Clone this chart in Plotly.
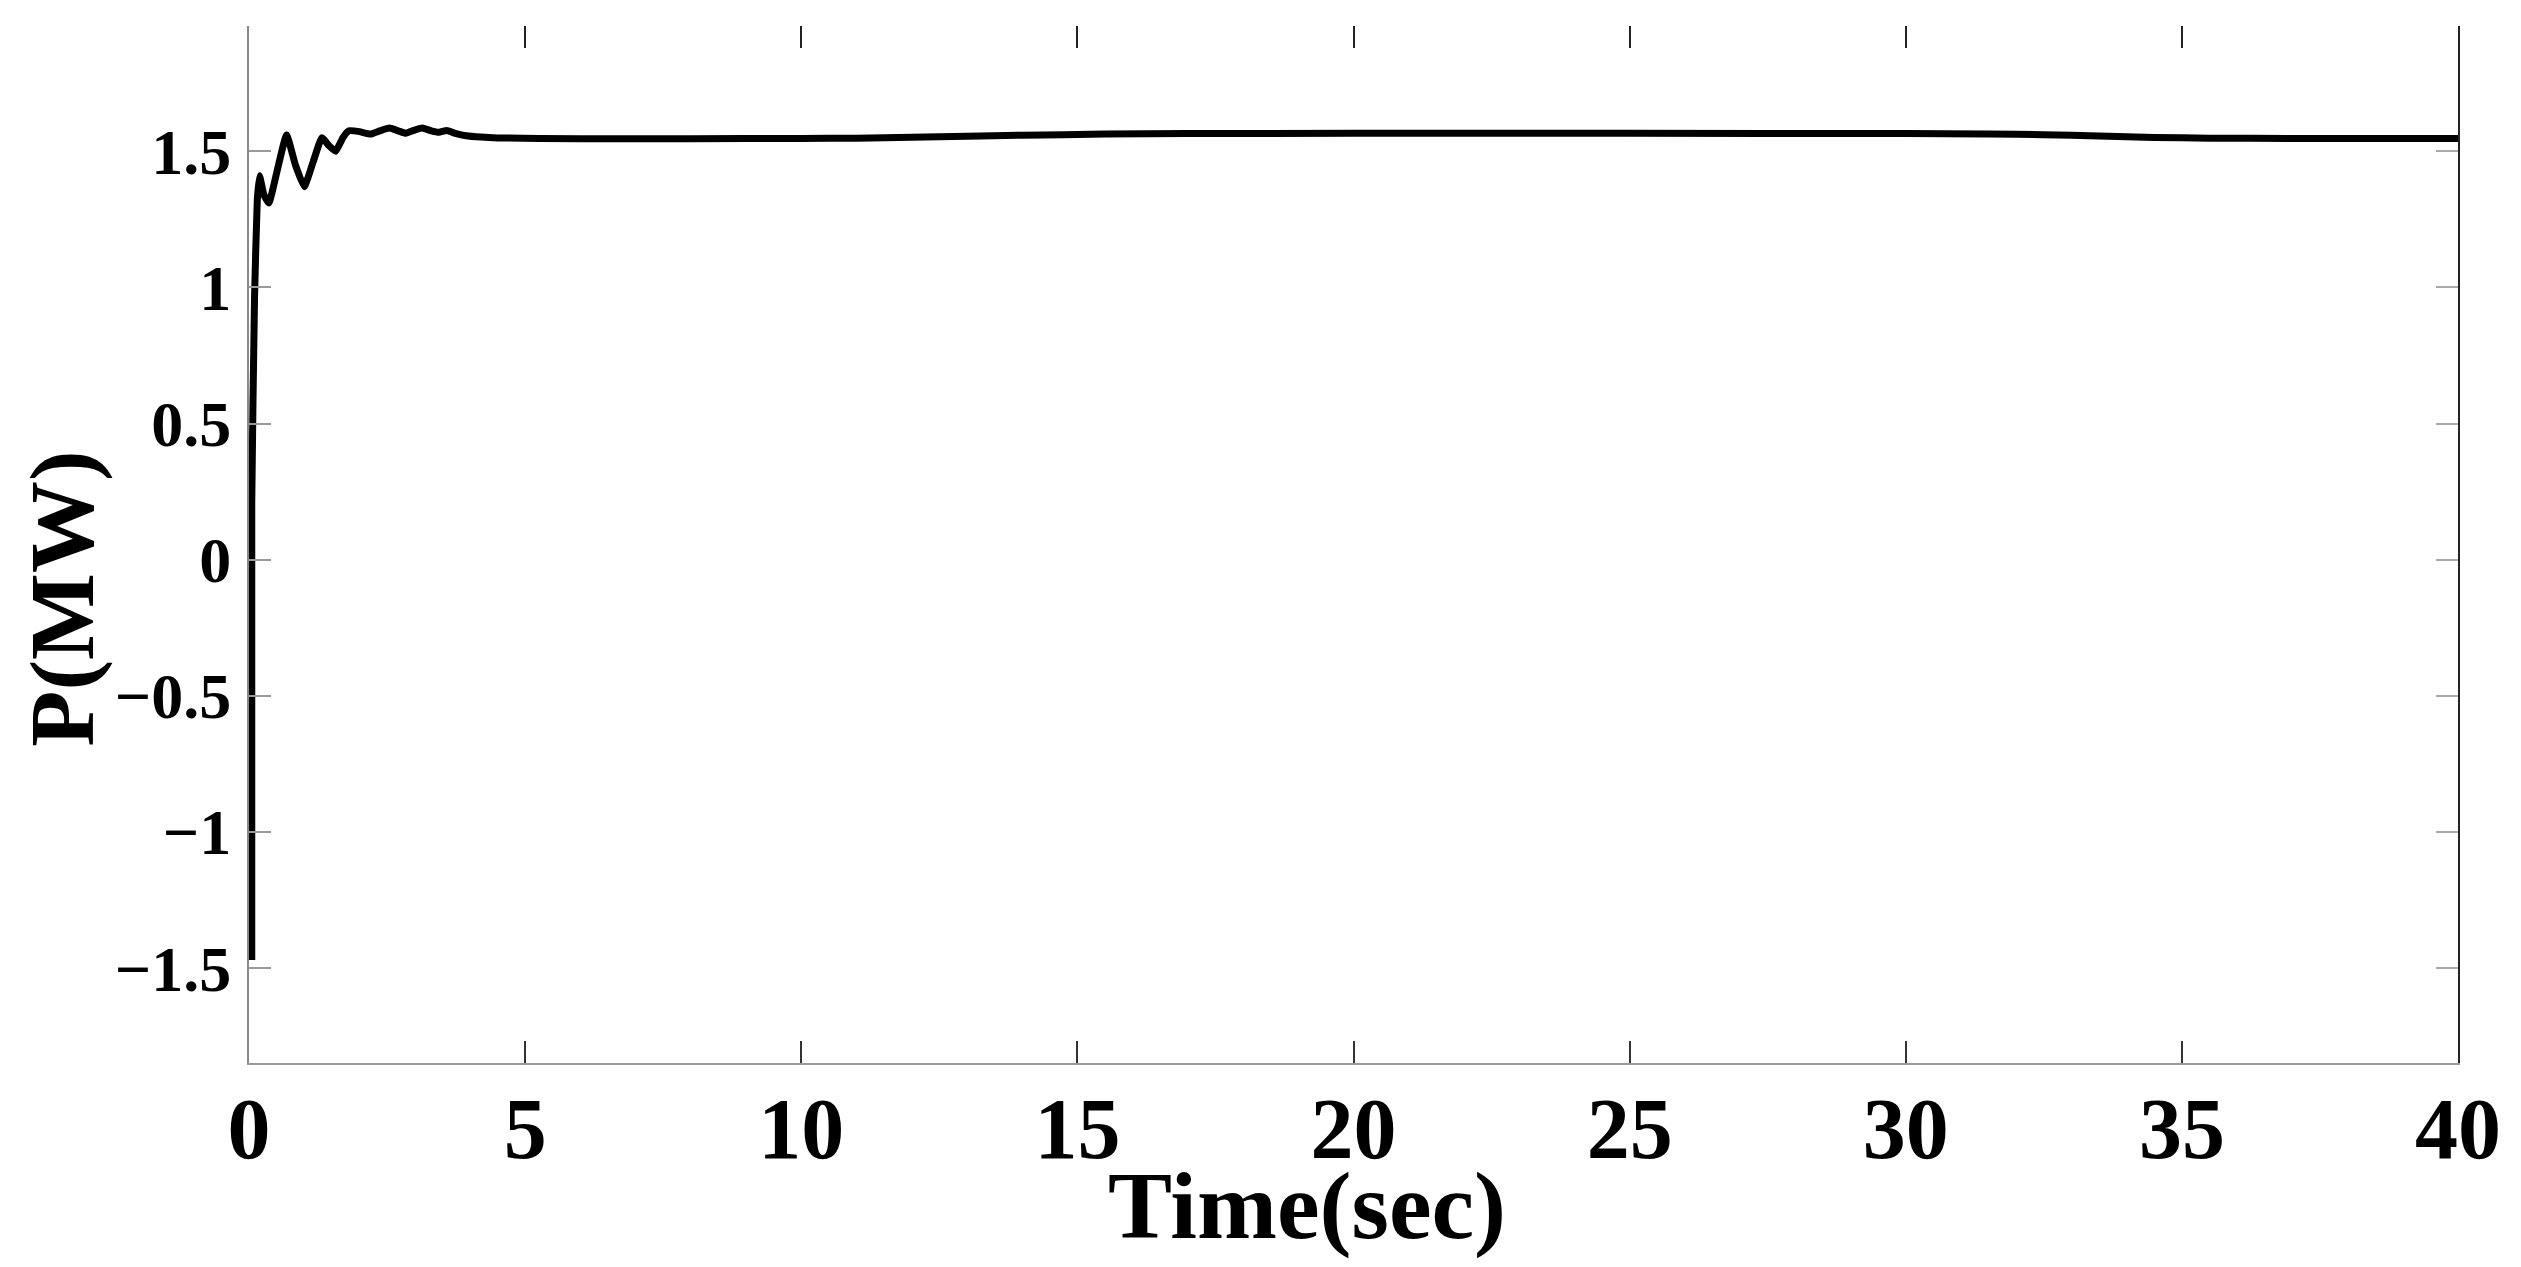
import plotly.graph_objects as go

# P(MW)
time_s = [0.05, 0.05, 0.10, 0.15, 0.19, 0.27, 0.36, 0.50, 0.68, 0.84, 1.00, 1.16,
          1.32, 1.45, 1.57, 1.70, 1.81, 2.00, 2.20, 2.37, 2.54, 2.70, 2.84, 3.00,
          3.14, 3.30, 3.44, 3.58, 3.75, 3.93, 4.20, 4.50, 6, 8, 10, 11, 12.5, 14,
          15.5, 17, 20, 25, 30, 31.5, 32.5, 33.5, 34.5, 35.5, 37, 40]
power_mw = [-1.47, 0.21, 0.96, 1.32, 1.41, 1.34, 1.31, 1.42, 1.56, 1.45, 1.37, 1.46,
            1.55, 1.52, 1.50, 1.55, 1.575, 1.572, 1.563, 1.575, 1.585, 1.575, 1.566, 1.578,
            1.585, 1.575, 1.57, 1.576, 1.565, 1.557, 1.552, 1.549, 1.546, 1.546, 1.547, 1.548, 1.553, 1.559,
            1.563, 1.565, 1.566, 1.566, 1.565, 1.563, 1.561, 1.556, 1.551, 1.548, 1.547, 1.547]

x_ticks = [0, 5, 10, 15, 20, 25, 30, 35, 40]
y_ticks = [-1.5, -1, -0.5, 0, 0.5, 1, 1.5]
y_ticktext = ["\u22121.5", "\u22121", "\u22120.5", "0", "0.5", "1", "1.5"]

X_RANGE = [0, 40]
Y_RANGE = [-1.848, 1.96]
SERIF = "Liberation Serif"

fig = go.Figure()
fig.add_trace(go.Scatter(
    x=time_s, y=power_mw, mode="lines",
    line=dict(color="black", width=7, shape="spline", smoothing=0.4),
    showlegend=False, hoverinfo="skip",
))
# invisible trace so the mirrored (top / right) axes get drawn
fig.add_trace(go.Scatter(x=[None], y=[None], xaxis="x2", yaxis="y2", showlegend=False))

# page body has an 8px margin, so the figure is sized a bit smaller
fig.update_layout(
    width=2505, height=1251,
    margin=dict(l=241, r=47, t=18, b=196),
    paper_bgcolor="white", plot_bgcolor="white",
    xaxis=dict(
        range=X_RANGE, tickvals=x_ticks, ticks="inside", ticklen=22, tickwidth=2,
        tickcolor="#333333", showline=True, linecolor="#999999", linewidth=2,
        showgrid=False, zeroline=False, ticklabelstandoff=-10,
        tickfont=dict(family=SERIF, size=86, color="black", weight="bold"),
    ),
    yaxis=dict(
        range=Y_RANGE, tickvals=y_ticks, ticktext=y_ticktext, ticks="inside",
        ticklen=22, tickwidth=2, tickcolor="#999999", showline=True,
        linecolor="#888888", linewidth=2, showgrid=False, zeroline=False,
        ticklabelstandoff=3,
        tickfont=dict(family=SERIF, size=64, color="black", weight="bold"),
    ),
    xaxis2=dict(
        overlaying="x", side="top", matches="x", range=X_RANGE, tickvals=x_ticks,
        ticks="inside", ticklen=22, tickwidth=2, tickcolor="#222222",
        showticklabels=False, showline=False, showgrid=False, zeroline=False,
    ),
    yaxis2=dict(
        overlaying="y", side="right", matches="y", range=Y_RANGE, tickvals=y_ticks,
        ticks="inside", ticklen=22, tickwidth=2, tickcolor="#aaaaaa",
        showticklabels=False, showline=True, linecolor="#222222", linewidth=2,
        showgrid=False, zeroline=False,
    ),
    annotations=[
        dict(text="<b>Time(sec)</b>", xref="x", yref="paper", x=19.16, y=-0.137,
             xanchor="center", yanchor="middle", showarrow=False,
             font=dict(family=SERIF, size=96, color="black")),
        dict(text="<b>P(MW)</b>", xref="paper", yref="paper", x=-0.0848, y=0.4474,
             xanchor="center", yanchor="middle", textangle=-90, showarrow=False,
             font=dict(family=SERIF, size=92, color="black")),
    ],
)

fig.write_html("out.html")
